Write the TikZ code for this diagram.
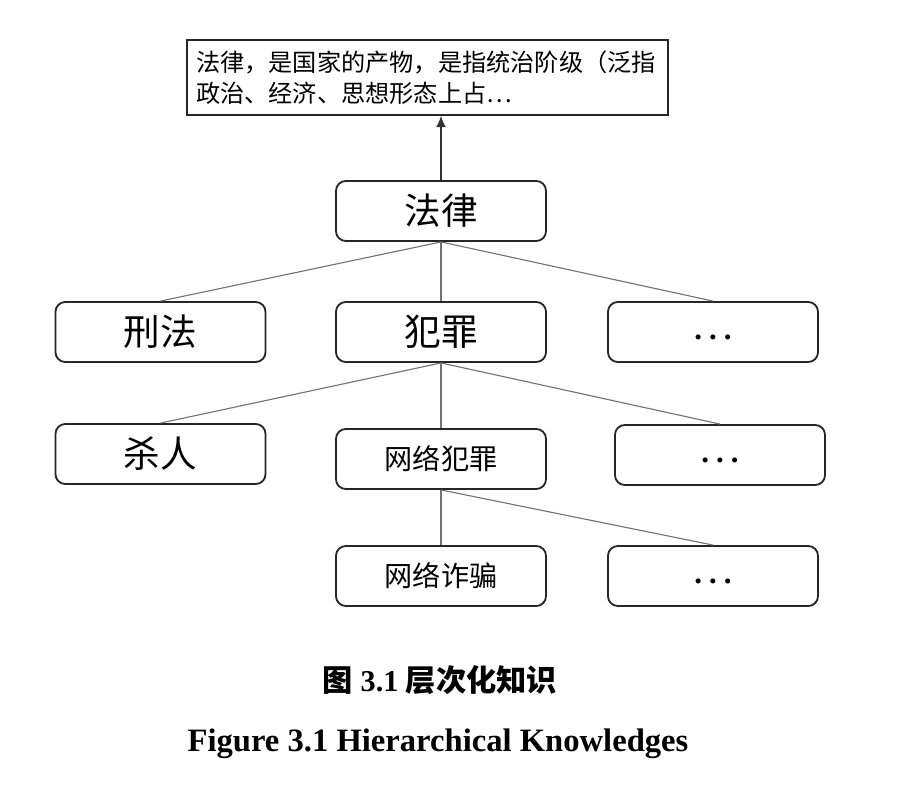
\documentclass[tikz,border=0pt]{standalone}
\usepackage{fontspec}
\setmainfont{Liberation Serif}
\newfontfamily\cjk{Noto Sans CJK SC}
\usetikzlibrary{arrows.meta}
\tikzset{
  knode/.style={draw=black!85, line width=1.3pt, rounded corners=7pt,
    minimum width=5.25cm, minimum height=1.5cm, inner sep=0pt, font=\cjk\fontsize{26}{30}\selectfont},
  kline/.style={draw=black!55, line width=0.8pt},
  dots/.style={font=\fontsize{22}{26}\selectfont\bfseries},
  defbox/.style={draw=black!85, line width=1.3pt, minimum width=12.02cm, minimum height=1.875cm,
    text width=11.56cm, align=left, inner sep=0pt, font=\cjk\fontsize{17.2}{22}\selectfont}
}
\newcommand{\kdots}{\raisebox{-5pt}[0pt][0pt]{.\hspace{5pt}.\hspace{5pt}.}}
\begin{document}
\begin{tikzpicture}[x=0.025cm, y=-0.025cm]
	  \useasboundingbox (0,0) rectangle (916,810);

	  \node [defbox] (def) at (427.5,77.5) {法律，是国家的产物，是指统治阶级（泛指\\政治、经济、思想形态上占\ldots};

	  \node [knode] (law) at (441,211) {法律};

	  \node [knode] (criminal) at (160.5,332) {刑法};
	  \node [knode] (crime) at (441,332) {犯罪};
	  \node [knode, dots] (more1) at (713,332) {\kdots};

	  \node [knode] (murder) at (160.5,454) {杀人};
	  \node [knode, font=\cjk\fontsize{20}{24}\selectfont] (netcrime) at (441,459) {网络犯罪};
	  \node [knode, dots] (more2) at (720,455) {\kdots};

	  \node [knode, font=\cjk\fontsize{20}{24}\selectfont] (fraud) at (441,576) {网络诈骗};
	  \node [knode, dots] (more3) at (713,576) {\kdots};

	  \draw [-{Latex[length=8pt,width=7pt]}, line width=0.8pt, black!80] (law.north) -- (law.north |- def.south);

	  \draw [kline] (law.south) -- (criminal.north);
	  \draw [kline] (law.south) -- (crime.north);
	  \draw [kline] (law.south) -- (more1.north);

	  \draw [kline] (crime.south) -- (murder.north);
	  \draw [kline] (crime.south) -- (netcrime.north);
	  \draw [kline] (crime.south) -- (more2.north);

	  \draw [kline] (netcrime.south) -- (fraud.north);
	  \draw [kline] (netcrime.south) -- (more3.north);

	  \node [font=\fontsize{21.5}{24}\selectfont\bfseries] (cap) at (440,680) {{\cjk 图} 3.1 {\cjk 层次化知识}};
	  \node [font=\fontsize{23.2}{26}\selectfont\bfseries] (capen) at (438,744) {Figure 3.1 Hierarchical Knowledges};
	\end{tikzpicture}
\end{document}
